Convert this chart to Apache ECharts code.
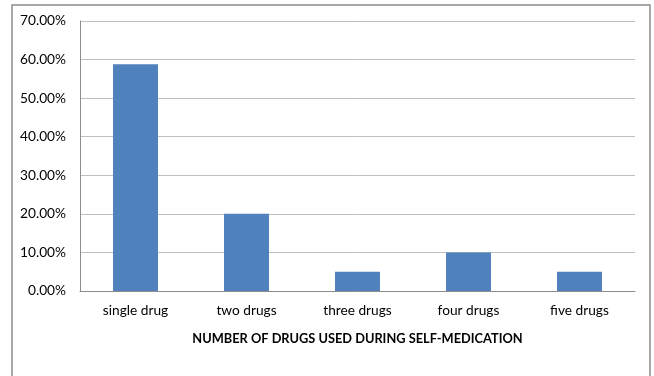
<!DOCTYPE html>
<html><head><meta charset="utf-8">
<script src="https://cdn.jsdelivr.net/npm/echarts@6/dist/echarts.min.js"></script>
<style>html,body{margin:0;padding:0;background:#fff}#c{width:654px;height:376px}</style>
</head><body><div id="c"></div>
<script>
const categories = ['single drug', 'two drugs', 'three drugs', 'four drugs', 'five drugs'];
const values = [58.8, 20, 5, 10, 5];
const axisTitle = 'NUMBER OF DRUGS USED DURING SELF-MEDICATION';
const FONT = 'Lato';
const chart = echarts.init(document.getElementById('c'), null, {renderer: 'canvas'});
chart.setOption({
  animation: false,
  backgroundColor: '#fff',
  graphic: [{
    type: 'rect', shape: {x: 12, y: 5, width: 638, height: 400}, silent: true,
    style: {fill: 'none', stroke: '#8c8c8c', lineWidth: 1.5}
  }],
  grid: {left: 80, right: 19, top: 21, bottom: 85, containLabel: false},
  xAxis: {
    type: 'category', data: categories,
    name: axisTitle, nameLocation: 'middle', nameGap: 41,
    nameTextStyle: {fontFamily: FONT, fontWeight: 'bold', fontSize: 12.8, color: '#000'},
    axisLine: {lineStyle: {color: '#8c8c8c', width: 1}},
    axisTick: {show: false},
    axisLabel: {fontFamily: FONT, fontSize: 13.7, color: '#000', margin: 13}
  },
  yAxis: {
    type: 'value', min: 0, max: 70, interval: 10,
    axisLine: {show: true, lineStyle: {color: '#8c8c8c', width: 1}},
    axisTick: {show: false},
    splitLine: {lineStyle: {color: '#bfbfbf', width: 1}},
    axisLabel: {fontFamily: FONT, fontSize: 13.7, color: '#000', margin: 14,
      formatter: v => v.toFixed(2) + '%'}
  },
  series: [{
    type: 'bar', data: values, barWidth: '40.5%',
    itemStyle: {color: '#4f81bd'}
  }]
});
</script></body></html>
